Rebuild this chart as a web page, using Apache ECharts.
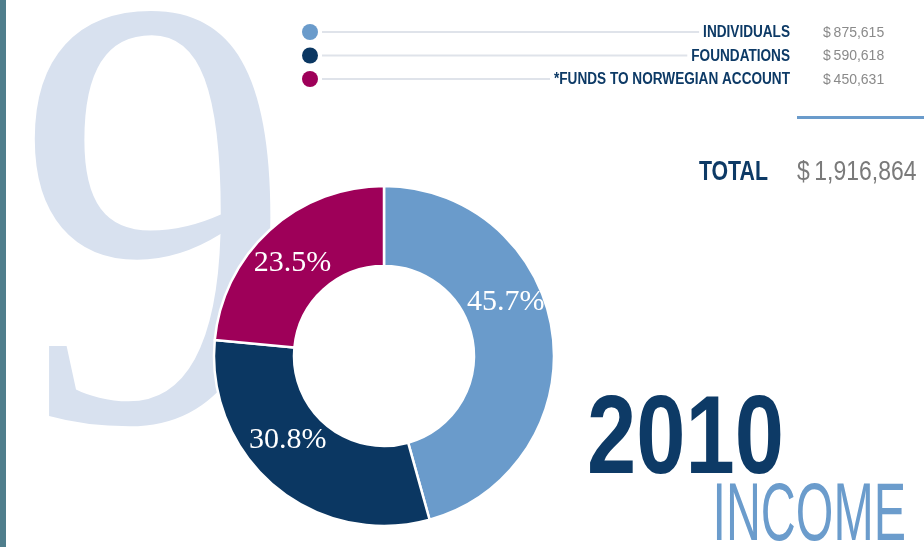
<!DOCTYPE html>
<html>
<head>
<meta charset="utf-8">
<script src="https://cdn.jsdelivr.net/npm/echarts@6/dist/echarts.min.js"></script>
<style>
html,body{margin:0;padding:0;background:#fff;}
#chart{width:924px;height:547px;}
</style>
</head>
<body>
<div id="chart"></div>
<script>
// ---- data ----
var categories = ['INDIVIDUALS', 'FOUNDATIONS', 'FUNDS TO NORWEGIAN ACCOUNT'];
var legendPrefix = ['', '', '*'];
var amounts = [875615, 590618, 450631];
var colors = ['#6a9bcb', '#0b3762', '#9e0059'];
var yearText = '2010';
var titleText = 'INCOME';
var totalLabel = 'TOTAL';

// ---- helpers ----
function money(v) { return v.toLocaleString('en-US'); }
var total = amounts.reduce(function (a, b) { return a + b; }, 0);
var labelOffsets = [[-10, -36], [-11, -18], [-2, 5]];

var measureCtx = document.createElement('canvas').getContext('2d');
function textWidth(str, font) { measureCtx.font = font; return measureCtx.measureText(str).width; }

var chart = echarts.init(document.getElementById('chart'));

var navy = '#0d3a66';
var graphics = [];
// left bar
graphics.push({ type: 'rect', left: 0, top: 0, z: 0, shape: { width: 6, height: 547 }, style: { fill: '#4f7e8c' } });
// big 9
graphics.push({ type: 'text', x: 17, y: 258, scaleX: 0.92, scaleY: 1.03, z: 0, style: { text: '9', font: '600px "Liberation Serif", serif', fill: '#d8e1ef', align: 'left', verticalAlign: 'middle', textAlign: 'left', textVerticalAlign: 'middle' } });

// legend rows
var rowY0 = 32, rowStep = 23.5;
var legendFont = 'bold 16px "Liberation Sans", sans-serif';
var legendScale = 0.85;
var legendRight = 790;
categories.forEach(function (name, i) {
  var y = rowY0 + i * rowStep;
  var txt = legendPrefix[i] + name;
  var w = textWidth(txt, legendFont) * legendScale;
  graphics.push({ type: 'line', z: 4, shape: { x1: 322, y1: y, x2: legendRight - w - 4, y2: y }, style: { stroke: '#dfe3ea', lineWidth: 2 } });
  graphics.push({ type: 'circle', z: 5, shape: { cx: 310, cy: y, r: 8 }, style: { fill: colors[i] } });
  graphics.push({ type: 'text', z: 5, x: legendRight, y: y + 1, scaleX: legendScale, style: {
    text: txt, font: legendFont, fill: navy,
    align: 'right', verticalAlign: 'middle', textAlign: 'right', textVerticalAlign: 'middle' } });
  graphics.push({ type: 'text', z: 5, x: 823, y: y + 1, scaleX: 1, style: {
    text: '$\u2009' + money(amounts[i]), font: '14px "Liberation Sans", sans-serif', fill: '#8a8a8a',
    align: 'left', verticalAlign: 'middle', textAlign: 'left', textVerticalAlign: 'middle' } });
});

// blue rule
graphics.push({ type: 'rect', z: 5, shape: { x: 797, y: 116, width: 127, height: 3 }, style: { fill: '#6a9bcb' } });
// total
graphics.push({ type: 'text', z: 5, x: 768, y: 173, scaleX: 0.79, style: {
  text: totalLabel, font: 'bold 27px "Liberation Sans", sans-serif', fill: navy,
  align: 'right', verticalAlign: 'middle', textAlign: 'right', textVerticalAlign: 'middle' } });
graphics.push({ type: 'text', z: 5, x: 797, y: 173, scaleX: 0.85, style: {
  text: '$\u2009' + money(total), font: '27px "Liberation Sans", sans-serif', fill: '#7a7a7a',
  align: 'left', verticalAlign: 'middle', textAlign: 'left', textVerticalAlign: 'middle' } });
// 2010 / INCOME
graphics.push({ type: 'text', z: 5, x: 587, y: 442, scaleX: 0.79, style: {
  text: yearText, font: 'bold 112px "Liberation Sans", sans-serif', fill: navy,
  align: 'left', verticalAlign: 'middle', textAlign: 'left', textVerticalAlign: 'middle' } });
graphics.push({ type: 'text', z: 5, x: 906, y: 517, scaleX: 0.59, style: {
  text: titleText, font: '82px "Liberation Sans", sans-serif', fill: '#6b9ccc',
  align: 'right', verticalAlign: 'middle', textAlign: 'right', textVerticalAlign: 'middle' } });

var option = {
  backgroundColor: '#ffffff',
  animation: false,
  graphic: { elements: graphics },
  series: [{
    type: 'pie',
    z: 3,
    center: [384, 356],
    radius: [90, 170],
    startAngle: 90,
    clockwise: true,
    percentPrecision: 1,
    avoidLabelOverlap: false,
    itemStyle: { borderColor: '#ffffff', borderWidth: 2.5 },
    label: {
      show: true, position: 'inside',
      color: '#ffffff',
      fontFamily: '"Liberation Serif", "DejaVu Serif", serif',
      fontSize: 30,
      formatter: function (p) { return p.percent.toFixed(1) + '%'; }
    },
    labelLine: { show: false },
    emphasis: { disabled: true },
    data: categories.map(function (name, i) {
      return { name: name, value: amounts[i], itemStyle: { color: colors[i] }, label: { offset: labelOffsets[i] } };
    })
  }]
};
chart.setOption(option);
</script>
</body>
</html>
